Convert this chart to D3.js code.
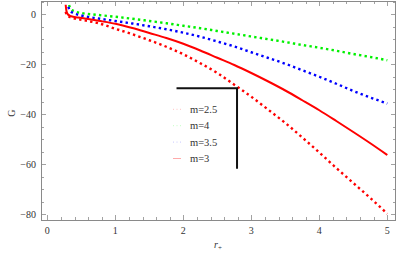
<!DOCTYPE html>
<html>
<head>
<meta charset="utf-8">
<script src="https://cdn.jsdelivr.net/npm/d3@7"></script>
<style>
  html, body { margin: 0; padding: 0; background: #fff; }
  svg { display: block; }
</style>
</head>
<body>
<div id="chart"></div>
<script>
// r+ values and G for each mass
const rM25 = [0.27, 0.29, 0.35, 0.5, 0.75, 1, 1.25, 1.5, 1.75, 2, 2.25, 2.5, 2.75, 3, 3.25, 3.5, 3.75, 4, 4.25, 4.5, 4.75, 5]
const gM25 = [1, -0.5, -1.3, -2.2, -3.6, -5.8, -8, -10.4, -13, -16, -19.6, -23.5, -28.2, -33, -38.2, -43.5, -49.3, -55.3, -61.5, -67.5, -73.5, -79.8]

const rM4 = [0.32, 0.34, 0.4, 0.5, 0.75, 1, 1.25, 1.5, 1.75, 2, 2.25, 2.5, 2.75, 3, 3.25, 3.5, 3.75, 4, 4.25, 4.5, 4.75, 5]
const gM4 = [3.7, 2.2, 1.2, 0.5, -0.3, -1, -1.8, -2.7, -3.6, -4.6, -5.6, -6.7, -7.8, -8.9, -10, -11.1, -12.3, -13.4, -14.6, -15.9, -17.1, -18.4]

const rM35 = [0.31, 0.33, 0.38, 0.5, 0.75, 1, 1.25, 1.5, 1.75, 2, 2.25, 2.5, 2.75, 3, 3.25, 3.5, 3.75, 4, 4.25, 4.5, 4.75, 5]
const gM35 = [3, 1.5, 0.5, -0.5, -1.7, -2.7, -3.7, -4.8, -6, -7.4, -9, -10.9, -12.9, -15.2, -17.5, -19.8, -22.4, -25, -27.8, -30.7, -33.3, -35.7]

const rM3 = [0.27, 0.28, 0.3, 0.35, 0.45, 0.6, 0.75, 1, 1.25, 1.5, 1.75, 2, 2.25, 2.5, 2.75, 3, 3.25, 3.5, 3.75, 4, 4.25, 4.5, 4.75, 5]
const gM3 = [3.8, 1.5, 0, -0.8, -1.3, -1.9, -2.6, -3.8, -5.5, -7.5, -9.5, -11.8, -14.5, -17.4, -20.3, -23.5, -26.9, -30.5, -34.4, -38.4, -42.7, -47.1, -51.6, -56.3]

const seriesLabels = ['m=2.5', 'm=4', 'm=3.5', 'm=3']
const xTicks = [0, 1, 2, 3, 4, 5]
const yTicks = [0, -20, -40, -60, -80]

const series = [
  { label: seriesLabels[0], r: rM25, g: gM25, color: '#ff0000', legendColor: '#ffc4c4', dash: '2.4,3.2' },
  { label: seriesLabels[1], r: rM4, g: gM4, color: '#00f000', legendColor: '#c4ffc4', dash: '2.4,3.2' },
  { label: seriesLabels[2], r: rM35, g: gM35, color: '#0000ff', legendColor: '#c8c8ff', dash: '2.4,3.2' },
  { label: seriesLabels[3], r: rM3, g: gM3, color: '#ff0000', legendColor: '#ffaaaa', dash: null },
]

const serif = "'Liberation Serif', 'Times New Roman', 'DejaVu Serif', serif"

const width = 414
const height = 259
const margin = { top: 1, right: 18, bottom: 39, left: 41 }

const svg = d3.select('#chart')
  .append('svg')
  .attr('width', width)
  .attr('height', height)
  .attr('font-family', serif)

const xScale = d3.scaleLinear()
  .domain([-0.093, 5.128])
  .range([margin.left, width - margin.right])

const yScale = d3.scaleLinear()
  .domain([-82.3, 5.3])
  .range([height - margin.bottom, margin.top])

const frameColor = '#8a8a8a'
const x0 = xScale.range()[0], x1 = xScale.range()[1]
const y0 = yScale.range()[1], y1 = yScale.range()[0]

svg.append('defs').append('clipPath').attr('id', 'plot-clip')
  .append('rect')
  .attr('x', x0).attr('y', y0)
  .attr('width', x1 - x0).attr('height', y1 - y0)

// frame ticks on all four sides (pointing inward)
const xMinor = d3.range(0, 5.01, 0.2)
const yMinor = d3.range(-80, 5.01, 5)
const ticksG = svg.append('g').attr('stroke', frameColor).attr('stroke-width', 0.8)

xMinor.forEach(v => {
  const major = Math.abs(v - Math.round(v)) < 1e-6
  const len = major ? 5 : 3
  const x = Math.round(xScale(v)) + 0.5
  ticksG.append('line').attr('x1', x).attr('x2', x).attr('y1', y1).attr('y2', y1 - len)
  ticksG.append('line').attr('x1', x).attr('x2', x).attr('y1', y0).attr('y2', y0 + len)
})
yMinor.forEach(v => {
  const major = v % 20 === 0
  const len = major ? 5 : 3
  const y = Math.round(yScale(v)) + 0.5
  ticksG.append('line').attr('x1', x0).attr('x2', x0 + len).attr('y1', y).attr('y2', y)
  ticksG.append('line').attr('x1', x1).attr('x2', x1 - len).attr('y1', y).attr('y2', y)
})

svg.append('rect')
  .attr('x', x0 + 0.5).attr('y', y0 + 0.5)
  .attr('width', x1 - x0 - 1).attr('height', y1 - y0)
  .attr('fill', 'none')
  .attr('stroke', frameColor)
  .attr('stroke-width', 1)

// tick labels
svg.append('g').selectAll('text')
  .data(xTicks)
  .join('text')
  .attr('font-size', 10)
  .attr('fill', '#333')
  .attr('x', d => xScale(d))
  .attr('y', y1 + 14)
  .attr('text-anchor', 'middle')
  .text(d => d3.format('d')(d))

svg.append('g').selectAll('text')
  .data(yTicks)
  .join('text')
  .attr('font-size', 10)
  .attr('fill', '#333')
  .attr('x', x0 - 5)
  .attr('y', d => yScale(d) + 3.5)
  .attr('text-anchor', 'end')
  .text(d => d3.format('d')(d))

// axis titles
svg.append('text')
  .attr('font-size', 10)
  .attr('fill', '#333')
  .attr('transform', `translate(15, ${yScale(-40) - 1}) rotate(-90)`)
  .attr('text-anchor', 'middle')
  .text('G')

const xTitle = svg.append('text')
  .attr('font-size', 10)
  .attr('fill', '#333')
  .attr('x', 214)
  .attr('y', 248)
xTitle.append('tspan').attr('font-style', 'italic').text('r')
xTitle.append('tspan').attr('font-size', 7).attr('dy', 2).text('+')

// curves
const line = d3.line()
  .x(d => xScale(d[0]))
  .y(d => yScale(d[1]))
  .curve(d3.curveMonotoneX)

const plot = svg.append('g').attr('clip-path', 'url(#plot-clip)')

plot.selectAll('path.curve')
  .data(series)
  .join('path')
  .attr('class', 'curve')
  .attr('d', s => line(s.r.map((r, i) => [r, s.g[i]])))
  .attr('fill', 'none')
  .attr('stroke', s => s.color)
  .attr('stroke-width', s => (s.dash ? 2.4 : 2))
  .attr('stroke-dasharray', s => s.dash)

// legend box (L-shaped frame)
const legendG = svg.append('g')
legendG.append('path')
  .attr('d', `M${xScale(1.9)},${yScale(-29.6)} H${xScale(2.79)} V${yScale(-61.8)}`)
  .attr('fill', 'none')
  .attr('stroke', '#111')
  .attr('stroke-width', 2)

const rows = legendG.selectAll('g.row')
  .data(series)
  .join('g')
  .attr('class', 'row')
  .attr('transform', (d, i) => `translate(173, ${109.3 + i * 16.4})`)

rows.append('line')
  .attr('x1', 0).attr('x2', 8)
  .attr('stroke', d => d.legendColor)
  .attr('stroke-width', 1)
  .attr('stroke-dasharray', d => (d.dash ? '1,2.5' : null))

rows.append('text')
  .attr('font-size', 10.5)
  .attr('fill', '#333')
  .attr('x', 17)
  .attr('y', 3.5)
  .text(d => d.label)
</script>
</body>
</html>
